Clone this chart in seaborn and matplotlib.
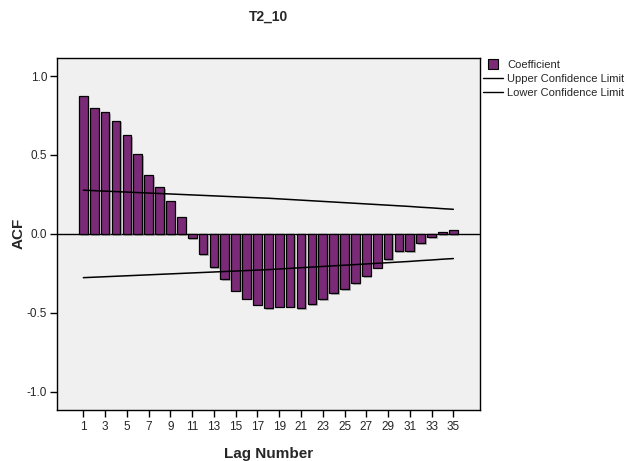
import matplotlib
matplotlib.use("Agg")
import matplotlib.pyplot as plt
import matplotlib.patheffects as pe
from matplotlib.lines import Line2D
import seaborn as sns
import pandas as pd

lags = list(range(1, 36))
coefficient = [0.875, 0.800, 0.772, 0.717, 0.627, 0.504, 0.371, 0.297, 0.209, 0.108,
               -0.028, -0.127, -0.210, -0.287, -0.359, -0.411, -0.449, -0.470, -0.460, -0.460,
               -0.470, -0.443, -0.413, -0.375, -0.350, -0.312, -0.268, -0.213, -0.160, -0.110,
               -0.110, -0.060, -0.020, 0.010, 0.025]
upper_limit = [0.277, 0.274, 0.271, 0.268, 0.265, 0.262, 0.259, 0.256, 0.253, 0.250,
               0.247, 0.244, 0.241, 0.238, 0.235, 0.232, 0.229, 0.226, 0.222, 0.218,
               0.214, 0.210, 0.206, 0.202, 0.198, 0.194, 0.190, 0.186, 0.182, 0.178,
               0.174, 0.169, 0.165, 0.160, 0.156]
lower_limit = [-v for v in upper_limit]
title = "T2_10"
x_ticks = list(range(1, 36, 2))
y_ticks = [-1.0, -0.5, 0.0, 0.5, 1.0]

df = pd.DataFrame({"lag": lags, "acf": coefficient, "ucl": upper_limit, "lcl": lower_limit})

sns.set_theme(style="white")
plt.rcParams["font.family"] = ["Liberation Sans", "DejaVu Sans"]

purple = "#7B2A78"
fig = plt.figure(figsize=(6.29, 4.61), dpi=100)
ax = fig.add_axes([57 / 629, 51 / 461, 423 / 629, 352.3 / 461])
ax.set_facecolor("#F0F0F0")

sns.barplot(data=df, x="lag", y="acf", native_scale=True, color=purple, saturation=1,
            edgecolor="black", linewidth=0.9, width=0.8, ax=ax, zorder=3)
for p in ax.patches:
    p.set_path_effects([pe.SimplePatchShadow(offset=(1.2, -1.2), shadow_rgbFace="#888888", alpha=0.6),
                        pe.Normal()])

sns.lineplot(data=df, x="lag", y="ucl", color="black", linewidth=1.1, ax=ax, zorder=4)
sns.lineplot(data=df, x="lag", y="lcl", color="black", linewidth=1.1, ax=ax, zorder=4)
ax.axhline(0, color="black", linewidth=1.0, zorder=2)

ax.set_xlim(-1.42, 37.45)
ax.set_ylim(-1.115, 1.116)
ax.set_xticks(x_ticks)
ax.set_xticklabels([str(t) for t in x_ticks], fontsize=8.5)
ax.set_yticks(y_ticks)
ax.set_yticklabels([f"{t:.1f}" for t in y_ticks], fontsize=8.5)
ax.tick_params(axis="both", direction="out", length=5, width=1, color="black",
               bottom=True, left=True, pad=2)
ax.tick_params(axis="x", pad=3)
for s in ax.spines.values():
    s.set_color("black")
    s.set_linewidth(1)

ax.set_xlabel("Lag Number", fontsize=11, fontweight="bold", labelpad=10)
ax.set_ylabel("ACF", fontsize=11, fontweight="bold", labelpad=1)
fig.text(268.5 / 629, 1 - 17 / 461, title, ha="center", va="center", fontsize=10, fontweight="bold")

handles = [Line2D([], [], linestyle="none", marker="s", markersize=7.5,
                  markerfacecolor=purple, markeredgecolor="black", markeredgewidth=0.8),
           Line2D([], [], color="black", linewidth=1),
           Line2D([], [], color="black", linewidth=1)]
labels = ["Coefficient", "Upper Confidence Limit", "Lower Confidence Limit"]
fig.legend(handles, labels, loc="upper left", bbox_to_anchor=(481 / 629, 1 - 58 / 461),
           frameon=False, fontsize=8.0, handlelength=1.8, handletextpad=0.35,
           labelspacing=0.35, borderaxespad=0, borderpad=0.2)

fig.savefig("out.png", dpi=100)
